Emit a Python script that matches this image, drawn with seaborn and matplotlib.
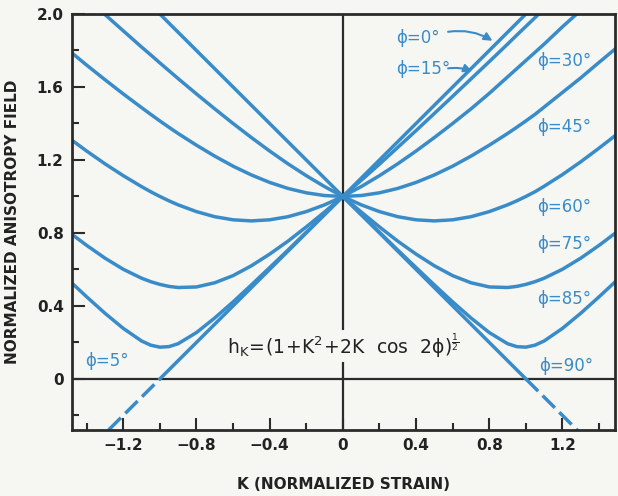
import pandas as pd
import seaborn as sns
import matplotlib.pyplot as plt
from matplotlib.ticker import FixedLocator, FixedFormatter

# K values (normalized strain) shared by the curved lines
K_GRID = [-1.48, -1.4, -1.3, -1.2, -1.1, -1.05, -1.0, -0.95, -0.9, -0.8, -0.7, -0.6,
          -0.5, -0.4, -0.3, -0.2, -0.1, 0.0, 0.1, 0.2, 0.3, 0.4, 0.5, 0.6, 0.7, 0.8,
          0.9, 0.95, 1.0, 1.05, 1.1, 1.2, 1.3, 1.4, 1.49]
N = None

# normalized anisotropy field (None = not drawn)
H_05 = [0.525, 0.45, 0.36, 0.277, 0.208, 0.185, 0.174, 0.177, 0.193, 0.254, 0.334, 0.422,
        0.515, 0.61, 0.706, 0.804, 0.902, 1.0] + [N] * 17
H_15 = [0.792, 0.732, 0.662, 0.601, 0.552, 0.533, 0.518, 0.507, 0.501, 0.504, 0.527, 0.566,
        0.62, 0.684, 0.755, 0.833, 0.915, 1.0, 1.088, 1.177, 1.269, 1.361, 1.455, 1.549,
        1.644, 1.739, 1.835, 1.884, 1.932, 1.98, 2.029, N, N, N, N]
H_30 = [1.308, 1.249, 1.179, 1.114, 1.054, 1.026, 1.0, 0.976, 0.954, 0.917, 0.889, 0.872,
        0.866, 0.872, 0.889, 0.917, 0.954, 1.0, 1.054, 1.114, 1.179, 1.249, 1.323, 1.40,
        1.48, 1.565, 1.655, 1.70, 1.745, 1.79, 1.835, 1.93, 2.02, N, N]
H_45 = [1.786, 1.72, 1.64, 1.562, 1.487, 1.45, 1.414, 1.379, 1.345, 1.281, 1.221, 1.166,
        1.118, 1.077, 1.044, 1.02, 1.005, 1.0, 1.005, 1.02, 1.044, 1.077, 1.118, 1.166,
        1.221, 1.281, 1.345, 1.379, 1.414, 1.45, 1.49, 1.57, 1.65, 1.735, 1.81]
H_60 = [N, 2.088, 1.997, 1.908, 1.819, 1.776, 1.732, 1.689, 1.646, 1.562, 1.48, 1.40,
        1.323, 1.249, 1.179, 1.114, 1.054, 1.0, 0.954, 0.917, 0.889, 0.872, 0.866, 0.872,
        0.889, 0.917, 0.954, 0.976, 1.0, 1.026, 1.056, 1.12, 1.19, 1.265, 1.335]
H_75 = [N] * 17 + [1.0, 0.915, 0.833, 0.755, 0.684, 0.62, 0.566, 0.527, 0.504, 0.501,
                   0.507, 0.518, 0.533, 0.552, 0.601, 0.662, 0.732, 0.80]
H_85 = [N] * 17 + [1.0, 0.902, 0.804, 0.706, 0.61, 0.515, 0.422, 0.334, 0.254, 0.193,
                   0.177, 0.174, 0.185, 0.208, 0.277, 0.36, 0.45, 0.534]

# straight lines for phi = 0 and 90 deg (solid part and dashed negative part)
K_00 = [-1.0, 1.02]
H_00 = [0.0, 2.02]
K_00_NEG = [-1.28, -1.0]
H_00_NEG = [-0.28, 0.0]
K_90 = [-1.02, 1.0]
H_90 = [2.02, 0.0]
K_90_NEG = [1.0, 1.29]
H_90_NEG = [0.0, -0.29]

LABELS = ['ϕ=0°', 'ϕ=15°', 'ϕ=30°', 'ϕ=45°', 'ϕ=60°', 'ϕ=75°', 'ϕ=85°', 'ϕ=90°', 'ϕ=5°']
LABEL_K = [0.29, 0.29, 1.06, 1.06, 1.06, 1.06, 1.06, 1.07, -1.41]
LABEL_H = [1.87, 1.70, 1.74, 1.38, 0.94, 0.74, 0.44, 0.07, 0.10]

X_TICKS = [-1.2, -0.8, -0.4, 0, 0.4, 0.8, 1.2]
X_TICKLABELS = ['−1.2', '−0.8', '−0.4', '0', '0.4', '0.8', '1.2']
Y_TICKS = [0, 0.4, 0.8, 1.2, 1.6, 2.0]
Y_TICKLABELS = ['0', '0.4', '0.8', '1.2', '1.6', '2.0']

BLUE = '#3a8cc8'
BG = '#f6f6f3'
INK = '#2b2b2b'

sns.set_style('ticks')
plt.rcParams['font.family'] = ['DejaVu Sans']
plt.rcParams['mathtext.fontset'] = 'dejavusans'

curves = {'5': H_05, '15': H_15, '30': H_30, '45': H_45,
          '60': H_60, '75': H_75, '85': H_85}
frames = []
for phi, h in curves.items():
    frames.append(pd.DataFrame({'K': K_GRID, 'h': h, 'phi': phi}))
data = pd.concat(frames).dropna()

fig = plt.figure(figsize=(6.18, 4.96), dpi=100, facecolor=BG)
ax = fig.add_axes([72 / 618, 1 - 430 / 496, 543 / 618, 416 / 496])
ax.set_facecolor(BG)

# reference axes through the origin
ax.axhline(0, color=INK, lw=1.6, zorder=1)
ax.axvline(0, color=INK, lw=1.6, zorder=1)

sns.lineplot(data=data, x='K', y='h', units='phi', estimator=None, sort=False,
             color=BLUE, lw=2.5, ax=ax, zorder=2)
for k, h in [(K_00, H_00), (K_90, H_90)]:
    sns.lineplot(x=k, y=h, color=BLUE, lw=2.5, ax=ax, zorder=2)
for k, h in [(K_00_NEG, H_00_NEG), (K_90_NEG, H_90_NEG)]:
    sns.lineplot(x=k, y=h, color=BLUE, lw=2.5, ax=ax, zorder=2,
                 linestyle=(0, (5, 1.8)))

ax.set_xlim(-1.48, 1.487)
ax.set_ylim(-0.28, 2.0)

for lab, k, h in zip(LABELS, LABEL_K, LABEL_H):
    ax.text(k, h, lab, color=BLUE, fontsize=12, ha='left', va='center')

# arrows for the two crowded lines
ax.annotate('', xy=(0.83, 1.845), xytext=(0.56, 1.90),
            arrowprops=dict(arrowstyle='-|>', color=BLUE, lw=1.5,
                            connectionstyle='arc3,rad=-0.2', mutation_scale=12))
ax.annotate('', xy=(0.72, 1.68), xytext=(0.56, 1.70),
            arrowprops=dict(arrowstyle='-|>', color=BLUE, lw=1.5,
                            connectionstyle='arc3,rad=-0.15', mutation_scale=12))

ax.text(0, 0.18, r'$\mathregular{h_K\!=\!(1\!+\!K^2\!+\!2K\ \ cos\ \ 2\phi)^{\frac{1}{2}}}$',
        fontsize=13.5, color='#222222', ha='center', va='center',
        bbox=dict(facecolor=BG, edgecolor='none', pad=1.5), zorder=3)

ax.xaxis.set_major_locator(FixedLocator(X_TICKS))
ax.xaxis.set_major_formatter(FixedFormatter(X_TICKLABELS))
ax.xaxis.set_minor_locator(FixedLocator([-1.4, -1.0, -0.6, -0.2, 0.2, 0.6, 1.0, 1.4]))
ax.yaxis.set_major_locator(FixedLocator(Y_TICKS))
ax.yaxis.set_major_formatter(FixedFormatter(Y_TICKLABELS))
ax.yaxis.set_minor_locator(FixedLocator([-0.2, 0.2, 0.6, 1.0, 1.4, 1.8]))
ax.tick_params(which='major', direction='in', length=9, width=1.5, color=INK,
               labelsize=11, labelcolor='#222222', pad=6)
ax.tick_params(which='minor', direction='in', length=5, width=1.5, color=INK)
plt.setp(ax.get_xticklabels() + ax.get_yticklabels(), fontweight='bold')

for side in ax.spines.values():
    side.set_color(INK)
    side.set_linewidth(2)

ax.set_xlabel('K (NORMALIZED STRAIN)', fontsize=11, fontweight='bold', color='#222222',
              labelpad=17)
ax.set_ylabel('NORMALIZED ANISOTROPY FIELD', fontsize=11, fontweight='bold',
              color='#222222', labelpad=12)

fig.savefig('out.png', dpi=100, facecolor=BG)
